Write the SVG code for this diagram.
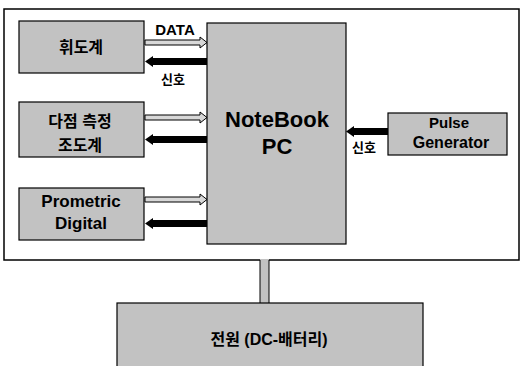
<svg xmlns="http://www.w3.org/2000/svg" width="521" height="366" viewBox="0 0 521 366">
<style>
.box{fill:#c2c2c2;stroke:#000;stroke-width:1.2}
.t{font-family:"Liberation Sans","Noto Sans CJK KR",sans-serif;font-weight:bold;fill:#000;text-anchor:middle}
.hollow{fill:#d8d8d8;stroke:#000;stroke-width:1}
.solid{fill:#000}
</style>
<rect width="521" height="366" fill="#fff"/>
<g id="frame"><rect x="4" y="9" width="515" height="251" fill="none" stroke="#000" stroke-width="1.5"/></g>
<g id="connectors">
<polygon class="hollow" points="145,40 200,40 200,37 207,42.5 200,48 200,45 145,45"/>
<polygon class="solid" points="207,58 153,58 153,56 145,61.5 153,67 153,65 207,65"/>
<polygon class="hollow" points="145,115 200,115 200,112 207,117.5 200,123 200,120 145,120"/>
<polygon class="solid" points="207,136 153,136 153,134 145,139.5 153,145 153,143 207,143"/>
<polygon class="hollow" points="145,197 200,197 200,194 207,199.5 200,205 200,202 145,202"/>
<polygon class="solid" points="207,220 153,220 153,218 145,223.5 153,229 153,227 207,227"/>
<polygon class="solid" points="388,128 354,128 354,126 346,131.5 354,137 354,135 388,135"/>
<rect x="260" y="259" width="9" height="45" fill="#c2c2c2"/>
<line x1="260" y1="260" x2="260" y2="303" stroke="#000" stroke-width="1"/>
<line x1="269" y1="260" x2="269" y2="303" stroke="#000" stroke-width="1"/>
<text class="t" x="175" y="35" font-size="15">DATA</text>
<text class="t" x="173" y="84" font-size="13" font-weight="normal">신호</text>
<text class="t" x="364" y="152" font-size="13" font-weight="normal">신호</text>
</g>
<g id="luminance"><rect class="box" x="19" y="21" width="125" height="52"/><text class="t" x="81" y="53" font-size="16">휘도계</text></g>
<g id="multipoint"><rect class="box" x="19" y="102" width="125" height="55"/><text class="t" x="80" y="127" font-size="16">다점 측정</text><text class="t" x="80" y="151" font-size="16">조도계</text></g>
<g id="prometric"><rect class="box" x="19" y="188" width="125" height="52"/><text class="t" x="81" y="207" font-size="17">Prometric</text><text class="t" x="81" y="229" font-size="17">Digital</text></g>
<g id="notebook"><rect class="box" x="207" y="23" width="139" height="221"/><text class="t" x="277" y="127" font-size="22">NoteBook</text><text class="t" x="277" y="154" font-size="22">PC</text></g>
<g id="pulse"><rect class="box" x="388" y="113" width="119" height="42"/><text class="t" x="449" y="128" font-size="15">Pulse</text><text class="t" x="451" y="148" font-size="16">Generator</text></g>
<g id="power"><rect class="box" x="117" y="303" width="306" height="70"/><text class="t" x="269" y="345" font-size="16">전원 (DC-배터리)</text></g>
</svg>
